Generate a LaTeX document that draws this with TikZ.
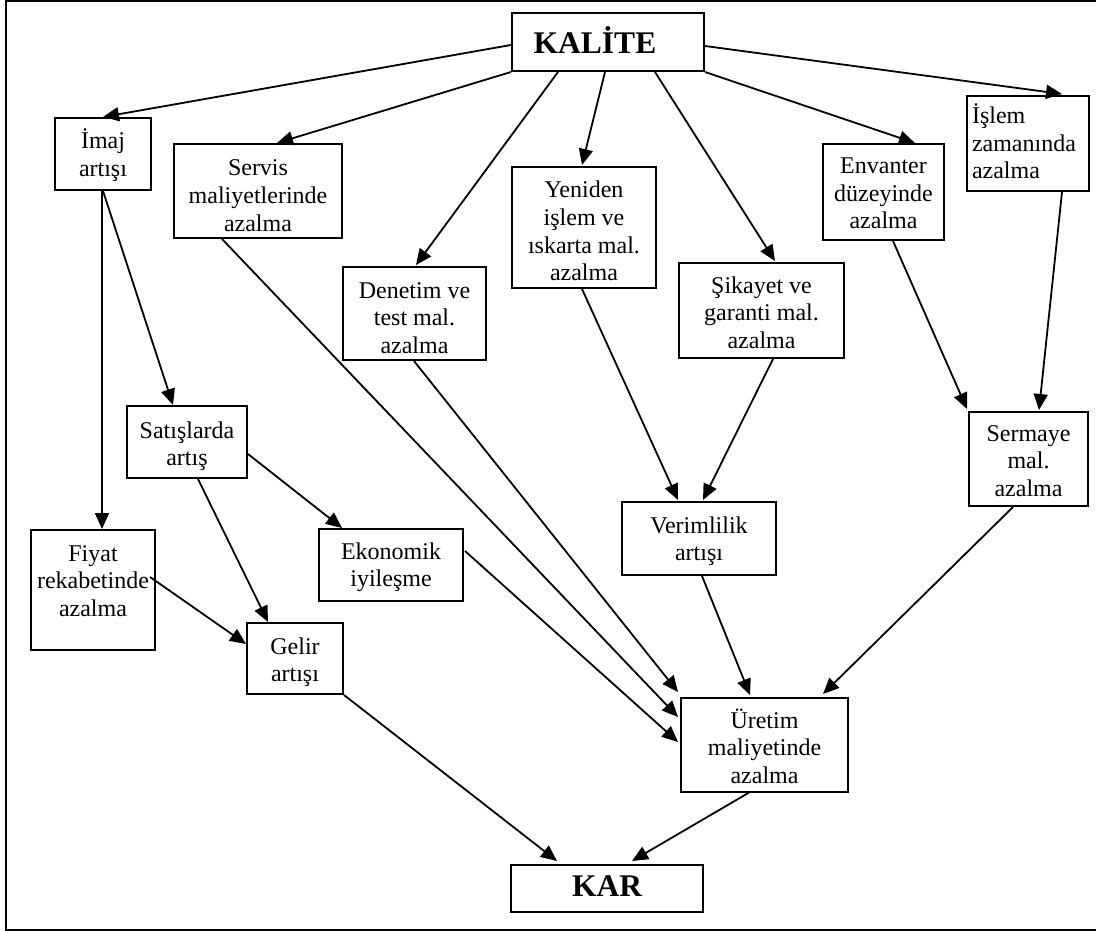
\documentclass[tikz,border=0pt]{standalone}
\usepackage{fontspec}
\setmainfont{Liberation Serif}
\usetikzlibrary{arrows.meta,calc}

% fixed-size cell: width, height, first baseline offset, alignment, text
\newcommand{\cell}[5]{\parbox[c][#2pt][t]{#1pt}{#4\rule{0pt}{#3pt}#5}}

\tikzset{
  box/.style={draw, line width=2pt, inner sep=0pt, anchor=north west,
              font=\fontsize{24}{27.5}\selectfont},
  bigbox/.style={box, font=\fontsize{31.5}{34}\selectfont\bfseries},
  link/.style={line width=1.8pt, -{Triangle[length=16pt,width=14pt]}},
  frame/.style={line width=2pt}
}

\begin{document}
\begin{tikzpicture}[x=1pt, y=-1pt]
\useasboundingbox (0,0) rectangle (1096,931);
\draw[frame] (1097,1) -- (6,1) -- (6,929.5) -- (1097,929.5);

% boxes
\node[bigbox] (kal) at (511,12)  {\cell{192}{58}{41}{\centering\hspace*{-26pt}}{KALİTE}};
\node[box] (ima) at (54,117)  {\cell{96}{72}{31}{\centering}{İmaj\\artışı}};
\node[box] (ser) at (173,143) {\cell{168}{94}{32}{\centering}{Servis\\maliyetlerinde\\azalma}};
\node[box] (den) at (342,266) {\cell{143}{93}{31}{\centering}{Denetim ve\\test mal.\\azalma}};
\node[box] (yen) at (511,166) {\cell{144}{121}{31}{\centering}{Yeniden\\işlem ve\\ıskarta mal.\\azalma}};
\node[box] (sik) at (678,262) {\cell{165}{95}{30}{\centering}{Şikayet ve\\garanti mal.\\azalma}};
\node[box] (env) at (822,143) {\cell{121}{96}{30}{\centering}{Envanter\\düzeyinde\\azalma}};
\node[box] (isl) at (966,95)  {\cell{122}{95}{28}{\raggedright\leftskip=5pt}{İşlem\\zamanında\\azalma}};
\node[box] (sat) at (126,405) {\cell{120}{72}{32}{\centering}{Satışlarda\\artış}};
\node[box] (fiy) at (30,529)  {\cell{124}{120}{31}{\centering}{Fiyat\\rekabetinde\\azalma}};
\node[box] (eko) at (318,528) {\cell{144}{72}{30}{\centering}{Ekonomik\\iyileşme}};
\node[box] (ver) at (621,501) {\cell{154}{73}{31}{\centering}{Verimlilik\\artışı}};
\node[box] (srm) at (968,411) {\cell{119}{94}{29}{\centering}{Sermaye\\mal.\\azalma}};
\node[box] (gel) at (246,622) {\cell{96}{71}{31}{\centering}{Gelir\\artışı}};
\node[box] (ure) at (680,697) {\cell{167}{94}{30}{\centering}{Üretim\\maliyetinde\\azalma}};
\node[bigbox] (kar) at (510,864) {\cell{192}{47}{31}{\centering}{KAR}};

% connectors out of KALİTE
\draw[link] ($(kal.north west)+(0,33)$) -- ($(ima.north west)+(49,0)$);
\draw[link] (kal.south west) -- ($(ser.north west)+(104,0)$);
\draw[link] ($(kal.south west)+(47,0)$) -- ($(den.north west)+(74,-1)$);
\draw[link] ($(kal.south west)+(94,0)$) -- ($(yen.north west)+(71,-1)$);
\draw[link] ($(kal.south west)+(144,0)$) -- ($(sik.north west)+(97,-1)$);
\draw[link] (kal.south east) -- ($(env.north west)+(93,0)$);
\draw[link] ($(kal.north east)+(0,34)$) -- ($(isl.north west)+(96,-1)$);

% image branch
\draw[link] ($(ima.south west)+(48,0)$) -- ($(fiy.north west)+(72,0)$);
\draw[link] ($(ima.south west)+(49,0)$) -- ($(sat.north west)+(47,0)$);
\draw[link] ($(sat.south west)+(72,0)$) -- ($(gel.north west)+(22,0)$);
\draw[link] ($(sat.north east)+(0,49)$) -- ($(eko.north west)+(24,0)$);
\draw[link] ($(fiy.north west)+(120,48)$) -- ($(gel.north west)+(0,22)$);

% cost branch into production cost
\draw[link] ($(ser.south west)+(49,0)$) -- ($(ure.north west)+(-2,20)$);
\draw[link] ($(den.south west)+(72,0)$) -- ($(ure.north west)+(-2,-5)$);
\draw[link] ($(eko.north east)+(1,23)$) -- ($(ure.north west)+(-2,45)$);
\draw[link] ($(yen.south west)+(71,0)$) -- ($(ver.north west)+(57,-1)$);
\draw[link] ($(sik.south west)+(95,0)$) -- ($(ver.north west)+(82,-1)$);
\draw[link] ($(env.south west)+(71,0)$) -- ($(srm.north west)+(-1,-2)$);
\draw[link] ($(isl.south west)+(96,0)$) -- ($(srm.north west)+(71,-1)$);
\draw[link] ($(ver.south west)+(81,0)$) -- ($(ure.north west)+(70,-2)$);
\draw[link] ($(srm.south west)+(45,0)$) -- ($(ure.north west)+(143,-3)$);

% into profit
\draw[link] (gel.south east) -- ($(kar.north west)+(47,-3)$);
\draw[link] ($(ure.south west)+(70,-1)$) -- ($(kar.north west)+(122,-3)$);
\end{tikzpicture}
\end{document}
